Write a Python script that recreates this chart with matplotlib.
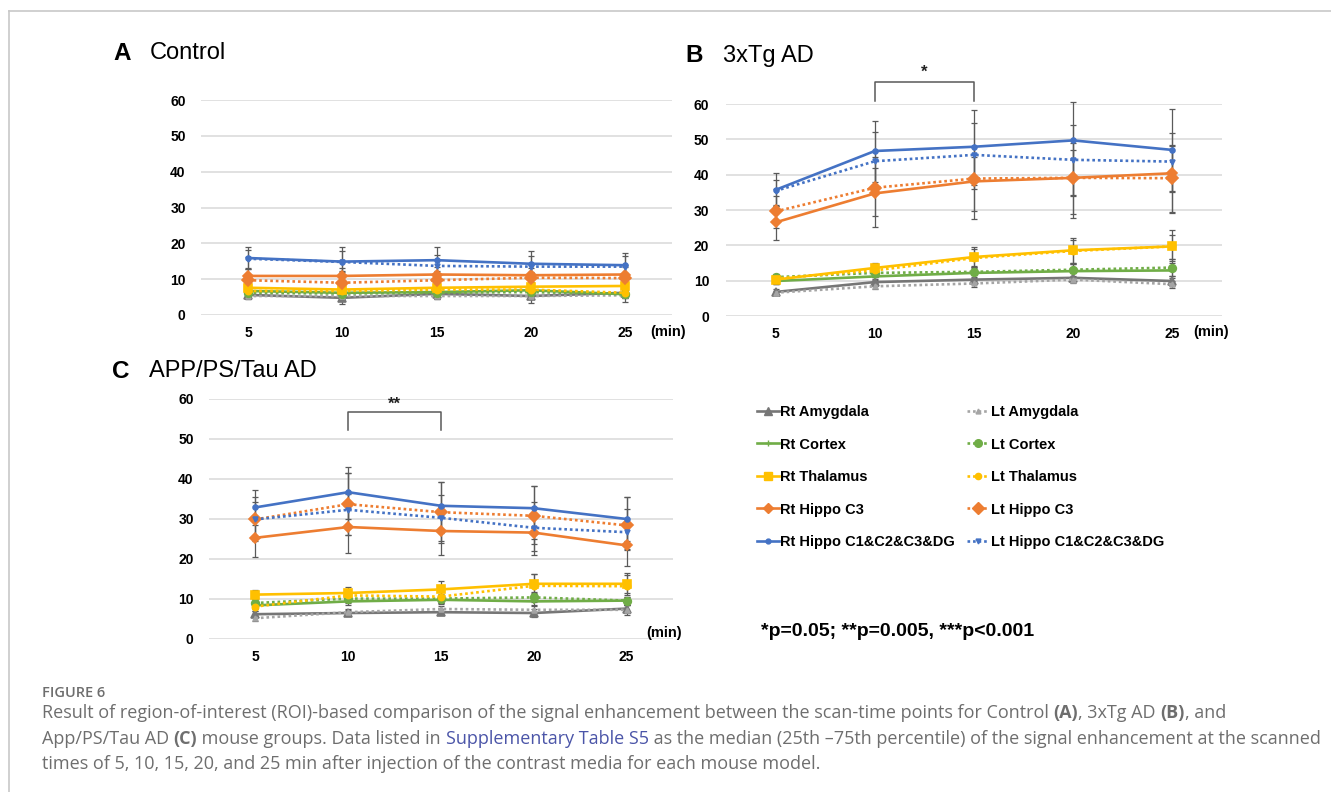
import matplotlib
matplotlib.use('Agg')
import matplotlib.pyplot as plt
from matplotlib.lines import Line2D

plt.rcParams['font.family'] = ['Liberation Sans', 'DejaVu Sans']

W, H = 1331, 792

TIMES = [5, 10, 15, 20, 25]
YTICKS = [0, 10, 20, 30, 40, 50, 60]

SERIES = ['Rt Amygdala', 'Lt Amygdala', 'Rt Cortex', 'Lt Cortex',
          'Rt Thalamus', 'Lt Thalamus', 'Rt Hippo C3', 'Lt Hippo C3',
          'Rt Hippo C1&C2&C3&DG', 'Lt Hippo C1&C2&C3&DG']

# --- A: Control (median values) ---
A_RT_AMY = [5.6, 4.8, 5.9, 5.3, 6.2]
A_LT_AMY = [5.3, 5.3, 5.3, 5.3, 5.5]
A_RT_CTX = [6.7, 6.2, 6.4, 6.9, 5.8]
A_LT_CTX = [6.2, 6.0, 6.2, 6.4, 5.8]
A_RT_THA = [7.6, 7.1, 7.6, 7.9, 8.1]
A_LT_THA = [6.7, 6.7, 7.1, 7.1, 6.2]
A_RT_C3 = [10.9, 10.9, 11.3, 11.1, 11.3]
A_LT_C3 = [9.7, 9.0, 9.7, 10.4, 10.3]
A_RT_ALL = [15.9, 14.9, 15.3, 14.3, 13.9]
A_LT_ALL = [15.7, 14.8, 13.7, 13.5, 13.5]

# error bar sizes (lower, upper)
A_RT_AMY_ERR = ([1.2, 1.6, 1.3, 2.0, 2.6], [1.0, 1.0, 1.0, 1.2, 1.0])
A_LT_AMY_ERR = ([0.8, 0.8, 0.8, 0.8, 0.8], [0.8, 0.8, 0.8, 0.8, 0.8])
A_RT_CTX_ERR = ([0.8, 0.9, 0.8, 0.9, 1.0], [0.8, 0.9, 0.8, 0.9, 1.0])
A_LT_CTX_ERR = ([0.8, 0.8, 0.8, 0.9, 0.9], [0.8, 0.8, 0.8, 0.9, 0.9])
A_RT_THA_ERR = ([1.0, 1.0, 1.0, 1.0, 1.0], [1.2, 1.2, 1.2, 1.2, 1.2])
A_LT_THA_ERR = ([0.9, 0.9, 0.9, 0.9, 0.9], [0.9, 0.9, 0.9, 0.9, 0.9])
A_RT_C3_ERR = ([1.8, 1.8, 2.0, 2.0, 2.0], [2.0, 2.2, 2.0, 2.0, 2.0])
A_LT_C3_ERR = ([1.5, 1.5, 1.5, 1.5, 1.5], [1.5, 1.5, 1.5, 1.5, 1.5])
A_RT_ALL_ERR = ([3.0, 3.0, 3.0, 3.0, 3.0], [3.1, 4.1, 3.7, 3.7, 3.5])
A_LT_ALL_ERR = ([2.5, 2.5, 2.5, 2.5, 2.5], [2.5, 3.0, 3.0, 3.0, 3.0])

# --- B: 3xTg AD ---
B_RT_AMY = [6.8, 9.6, 10.3, 10.8, 9.9]
B_LT_AMY = [6.6, 8.4, 9.2, 10.3, 9.0]
B_RT_CTX = [9.9, 11.2, 12.2, 12.7, 12.9]
B_LT_CTX = [11.0, 12.2, 12.5, 13.1, 13.7]
B_RT_THA = [10.3, 13.6, 16.7, 18.6, 19.7]
B_LT_THA = [10.6, 12.9, 16.4, 18.4, 19.7]
B_RT_C3 = [26.5, 34.7, 38.1, 39.1, 40.4]
B_LT_C3 = [29.6, 36.3, 38.9, 39.1, 39.0]
B_RT_ALL = [35.7, 46.7, 47.9, 49.7, 47.0]
B_LT_ALL = [35.4, 43.8, 45.6, 44.2, 43.7]

B_RT_AMY_ERR = ([0.8, 1.0, 1.2, 1.3, 1.3], [0.8, 1.0, 1.2, 1.3, 1.3])
B_LT_AMY_ERR = ([0.6, 0.8, 0.9, 1.0, 1.0], [0.6, 0.8, 0.9, 1.0, 1.0])
B_RT_CTX_ERR = ([0.8, 1.0, 1.5, 2.0, 2.2], [0.8, 1.0, 1.5, 2.0, 2.2])
B_LT_CTX_ERR = ([1.0, 1.2, 1.6, 2.0, 2.3], [1.0, 1.2, 1.6, 2.0, 2.3])
B_RT_THA_ERR = ([1.3, 2.1, 2.7, 3.8, 4.2], [1.2, 1.4, 2.8, 3.4, 4.5])
B_LT_THA_ERR = ([1.6, 1.9, 2.4, 3.4, 3.7], [0.9, 1.7, 2.6, 3.1, 3.3])
B_RT_C3_ERR = ([5.1, 9.5, 10.6, 11.4, 11.3], [5.0, 7.3, 6.9, 7.9, 7.6])
B_LT_C3_ERR = ([4.6, 8.1, 9.3, 10.1, 9.7], [4.4, 8.7, 9.1, 9.9, 9.5])
B_RT_ALL_ERR = ([4.7, 8.7, 11.9, 15.7, 12.0], [4.7, 8.4, 10.3, 10.8, 11.5])
B_LT_ALL_ERR = ([4.4, 8.8, 8.6, 10.0, 8.4], [3.1, 8.2, 8.9, 9.8, 8.1])

# --- C: APP/PS/Tau AD ---
C_RT_AMY = [6.2, 6.5, 6.7, 6.5, 7.6]
C_LT_AMY = [5.2, 6.7, 7.5, 7.3, 7.3]
C_RT_CTX = [8.4, 9.4, 9.8, 9.4, 9.6]
C_LT_CTX = [9.0, 10.1, 10.1, 10.4, 9.6]
C_RT_THA = [11.1, 11.5, 12.4, 13.8, 13.8]
C_LT_THA = [8.1, 10.9, 10.6, 13.3, 13.2]
C_RT_C3 = [25.3, 28.0, 27.0, 26.6, 23.4]
C_LT_C3 = [29.9, 33.7, 31.7, 30.8, 28.4]
C_RT_ALL = [32.9, 36.7, 33.3, 32.7, 30.0]
C_LT_ALL = [29.9, 32.3, 30.3, 27.8, 26.7]

C_RT_AMY_ERR = ([0.7, 0.8, 0.8, 0.9, 1.0], [0.7, 0.8, 0.8, 0.9, 1.0])
C_LT_AMY_ERR = ([0.6, 0.8, 0.8, 0.9, 1.2], [0.6, 0.8, 0.8, 0.9, 1.2])
C_RT_CTX_ERR = ([0.9, 1.0, 1.1, 1.0, 1.0], [0.9, 1.0, 1.1, 1.0, 1.0])
C_LT_CTX_ERR = ([0.9, 1.0, 1.1, 1.1, 1.0], [0.9, 1.0, 1.1, 1.1, 1.0])
C_RT_THA_ERR = ([1.2, 1.5, 1.8, 2.0, 2.3], [1.2, 1.6, 2.0, 2.5, 2.8])
C_LT_THA_ERR = ([1.0, 1.3, 1.6, 2.0, 2.2], [1.2, 1.4, 1.8, 2.9, 2.7])
C_RT_C3_ERR = ([4.9, 6.4, 6.0, 5.6, 5.1], [4.9, 8.3, 5.9, 6.3, 5.5])
C_LT_C3_ERR = ([5.4, 7.7, 7.1, 7.0, 5.9], [5.5, 7.7, 7.6, 7.4, 7.2])
C_RT_ALL_ERR = ([4.4, 6.7, 6.8, 7.7, 5.5], [4.3, 6.4, 6.0, 5.5, 5.6])
C_LT_ALL_ERR = ([4.9, 6.3, 6.2, 5.8, 4.5], [4.4, 9.1, 5.6, 6.5, 5.8])

# significance brackets: (start, end, label)
B_SIG = (10, 15, '*')
C_SIG = (10, 15, '**')

GRAY, LGRAY = '#767676', '#a5a5a5'
GREEN, YELLOW, ORANGE, BLUE = '#70ad47', '#ffc000', '#ed7d31', '#4472c4'
DOT = (0, (1, 1.1))

STYLE = {
    'Rt Amygdala': dict(color=GRAY, ls='-', marker='^', ms=6),
    'Lt Amygdala': dict(color=LGRAY, ls=DOT, marker='^', ms=3.5),
    'Rt Cortex': dict(color=GREEN, ls='-', marker='+', ms=4),
    'Lt Cortex': dict(color=GREEN, ls=DOT, marker='o', ms=5.5),
    'Rt Thalamus': dict(color=YELLOW, ls='-', marker='s', ms=6),
    'Lt Thalamus': dict(color=YELLOW, ls=DOT, marker='o', ms=4.5),
    'Rt Hippo C3': dict(color=ORANGE, ls='-', marker='D', ms=5),
    'Lt Hippo C3': dict(color=ORANGE, ls=DOT, marker='D', ms=6.5),
    'Rt Hippo C1&C2&C3&DG': dict(color=BLUE, ls='-', marker='o', ms=3.5),
    'Lt Hippo C1&C2&C3&DG': dict(color=BLUE, ls=DOT, marker='v', ms=3.5),
}


def px(x0, y_top, x1, y_bot):
    return [x0 / W, 1 - y_bot / H, (x1 - x0) / W, (y_bot - y_top) / H]


def draw_panel(ax, medians, errors, ypad):
    for y, err in zip(medians, errors):
        ax.errorbar(TIMES, y, yerr=err, fmt='none', ecolor='#5a5a5a',
                    elinewidth=0.9, capsize=2, capthick=0.9,
                    clip_on=False, zorder=2)
    for name, y in zip(SERIES, medians):
        st = STYLE[name]
        ax.plot(TIMES, y, color=st['color'], ls=st['ls'], lw=1.9,
                marker=st['marker'], ms=st['ms'], mec=st['color'],
                mfc=st['color'], mew=1.2, clip_on=False, zorder=3)

    ax.set_xlim(2.5, 27.5)
    ax.set_ylim(0, 60)
    ax.set_xticks(TIMES)
    ax.set_yticks(YTICKS)
    ax.yaxis.grid(True, color='#d9d9d9', lw=1.1)
    ax.set_axisbelow(True)
    for s in ax.spines.values():
        s.set_visible(False)
    ax.tick_params(axis='both', length=0, labelsize=10)
    ax.tick_params(axis='x', pad=8)
    ax.tick_params(axis='y', pad=ypad)
    for lab in ax.get_xticklabels() + ax.get_yticklabels():
        lab.set_fontweight('bold')


def draw_bracket(ax, sig, y_low, y_high, y_text):
    x0, x1, label = sig
    ax.plot([x0, x0, x1, x1], [y_low, y_high, y_high, y_low],
            color='#595959', lw=1.1, clip_on=False)
    ax.text((x0 + x1) / 2, y_text, label, ha='center', va='center',
            fontsize=12, fontweight='bold', color='#222222')


fig = plt.figure(figsize=(W / 100, H / 100), dpi=100)

axA = fig.add_axes(px(201, 100, 672, 315))
draw_panel(axA,
           [A_RT_AMY, A_LT_AMY, A_RT_CTX, A_LT_CTX, A_RT_THA, A_LT_THA,
            A_RT_C3, A_LT_C3, A_RT_ALL, A_LT_ALL],
           [A_RT_AMY_ERR, A_LT_AMY_ERR, A_RT_CTX_ERR, A_LT_CTX_ERR,
            A_RT_THA_ERR, A_LT_THA_ERR, A_RT_C3_ERR, A_LT_C3_ERR,
            A_RT_ALL_ERR, A_LT_ALL_ERR], ypad=11)

axB = fig.add_axes(px(726, 104, 1222, 316))
draw_panel(axB,
           [B_RT_AMY, B_LT_AMY, B_RT_CTX, B_LT_CTX, B_RT_THA, B_LT_THA,
            B_RT_C3, B_LT_C3, B_RT_ALL, B_LT_ALL],
           [B_RT_AMY_ERR, B_LT_AMY_ERR, B_RT_CTX_ERR, B_LT_CTX_ERR,
            B_RT_THA_ERR, B_LT_THA_ERR, B_RT_C3_ERR, B_LT_C3_ERR,
            B_RT_ALL_ERR, B_LT_ALL_ERR], ypad=12)
draw_bracket(axB, B_SIG, 60.8, 66.1, 68.9)

axC = fig.add_axes(px(209, 399, 673, 639))
draw_panel(axC,
           [C_RT_AMY, C_LT_AMY, C_RT_CTX, C_LT_CTX, C_RT_THA, C_LT_THA,
            C_RT_C3, C_LT_C3, C_RT_ALL, C_LT_ALL],
           [C_RT_AMY_ERR, C_LT_AMY_ERR, C_RT_CTX_ERR, C_LT_CTX_ERR,
            C_RT_THA_ERR, C_LT_THA_ERR, C_RT_C3_ERR, C_LT_C3_ERR,
            C_RT_ALL_ERR, C_LT_ALL_ERR], ypad=11)
draw_bracket(axC, C_SIG, 52.3, 56.8, 58.6)

# panel titles
for letter, name, xl, xn, yc in [('A', 'Control', 113, 150, 53),
                                 ('B', '3xTg AD', 685, 723, 56),
                                 ('C', 'APP/PS/Tau AD', 112, 149, 371)]:
    fig.text(xl / W, 1 - yc / H, letter, fontsize=17.5, fontweight='bold',
             va='center', ha='left')
    fig.text(xn / W, 1 - yc / H, name, fontsize=17, va='center', ha='left')

# (min) axis labels
for xc, yc in [(668, 332), (1211, 332), (664, 633)]:
    fig.text(xc / W, 1 - yc / H, '(min)', fontsize=10.5, fontweight='bold',
             ha='center', va='center')

# legend
handles = []
for name in SERIES[0::2] + SERIES[1::2]:
    st = STYLE[name]
    handles.append(Line2D([], [], color=st['color'], ls=st['ls'], lw=1.9,
                          marker=st['marker'], ms=st['ms'],
                          mec=st['color'], mfc=st['color']))
fig.legend(handles, SERIES[0::2] + SERIES[1::2], ncol=2, loc='upper left',
           bbox_to_anchor=(757 / W, 1 - 405 / H), frameon=False,
           prop=dict(weight='bold', size=10.5), handlelength=1.5,
           handletextpad=0.1, columnspacing=0.85, labelspacing=1.27,
           borderaxespad=0, borderpad=0, numpoints=1)

fig.text(761 / W, 1 - 631 / H, '*p=0.05; **p=0.005, ***p<0.001',
         fontsize=14, fontweight='bold', va='center', ha='left')

# page frame
fig.add_artist(Line2D([9 / W, 9 / W], [0, 1 - 11 / H],
                      transform=fig.transFigure, color='#c8c8c8', lw=1.2))
fig.add_artist(Line2D([9 / W, 1], [1 - 11 / H, 1 - 11 / H],
                      transform=fig.transFigure, color='#c8c8c8', lw=1.2))

# caption
cap = fig.add_axes([0, 0, 1, 1])
cap.axis('off')
cap.set_zorder(-1)
CAP_FONT = ['Open Sans', 'DejaVu Sans']
CAP_COLOR = '#6e6e6e'
CAP_SIZE = 13

fig.text(42 / W, 1 - 697 / H, 'FIGURE 6', fontsize=10.5, color=CAP_COLOR,
         family=CAP_FONT, fontweight='semibold', va='baseline')

caption_lines = [
    [('Result of region-of-interest (ROI)-based comparison of the signal '
      'enhancement between the scan-time points for Control ', 'normal', CAP_COLOR),
     ('(A)', 'bold', CAP_COLOR), (', 3xTg AD ', 'normal', CAP_COLOR),
     ('(B)', 'bold', CAP_COLOR), (', and', 'normal', CAP_COLOR)],
    [('App/PS/Tau AD ', 'normal', CAP_COLOR), ('(C)', 'bold', CAP_COLOR),
     (' mouse groups. Data listed in ', 'normal', CAP_COLOR),
     ('Supplementary Table S5', 'normal', '#4b55a8'),
     (' as the median (25th \u201375th percentile) of the signal enhancement '
      'at the scanned', 'normal', CAP_COLOR)],
    [('times of 5, 10, 15, 20, and 25 min after injection of the contrast '
      'media for each mouse model.', 'normal', CAP_COLOR)],
]
for base, runs in zip([718, 744, 769], caption_lines):
    prev = None
    for text, weight, color in runs:
        if prev is None:
            prev = cap.text(42 / W, 1 - base / H, text, fontsize=CAP_SIZE,
                            color=color, family=CAP_FONT, fontweight=weight,
                            va='baseline', ha='left', transform=cap.transAxes)
        else:
            prev = cap.annotate(text, xy=(1, 0), xycoords=prev,
                                fontsize=CAP_SIZE, color=color,
                                family=CAP_FONT, fontweight=weight,
                                va='bottom', ha='left')

fig.savefig('out.png', dpi=100)
